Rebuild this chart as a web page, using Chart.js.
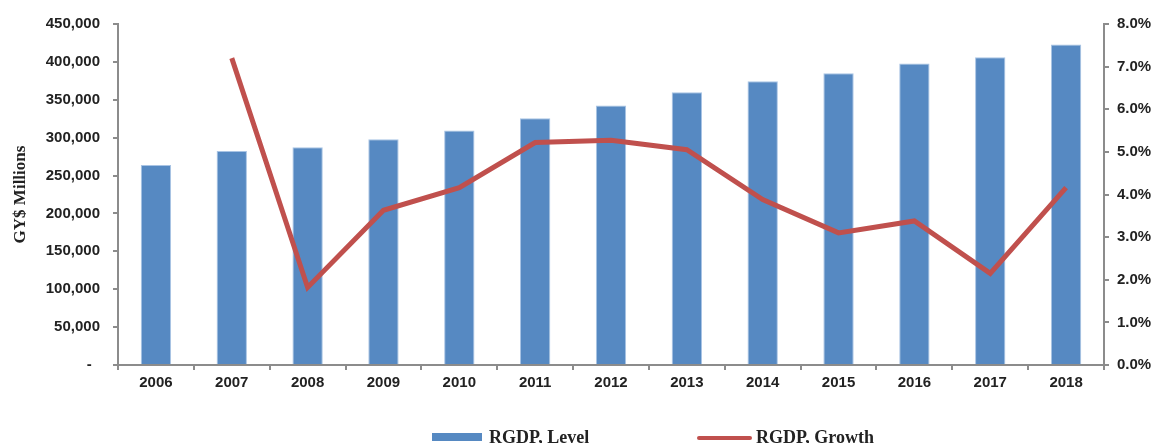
<!DOCTYPE html>
<html>
<head>
<meta charset="utf-8">
<script src="https://cdn.jsdelivr.net/npm/chart.js@4.4.0/dist/chart.umd.min.js"></script>
<style>
  html, body { margin: 0; padding: 0; background: #fff; overflow: hidden; }
  #wrap { position: relative; width: 1154px; height: 443px; }
  #legend { position: absolute; left: 0; top: 0; width: 1154px; height: 443px; pointer-events: none; }
  .lg-swatch { position: absolute; }
  .lg-text { position: absolute; font: bold 18px "Liberation Serif", "Times New Roman", serif; color: #222; line-height: 18px; white-space: nowrap; }
</style>
</head>
<body>
<div id="wrap">
  <canvas id="rgdpChart" width="1154" height="443"></canvas>
  <div id="legend"></div>
</div>
<script>
const years = ['2006', '2007', '2008', '2009', '2010', '2011', '2012', '2013', '2014', '2015', '2016', '2017', '2018'];
const rgdpLevel = [264000, 282500, 287500, 298000, 309500, 325500, 342500, 360000, 374500, 385000, 398000, 406000, 423000];
const rgdpGrowth = [null, 7.2, 1.82, 3.63, 4.16, 5.22, 5.27, 5.05, 3.88, 3.10, 3.38, 2.15, 4.16];
const levelTicks = [0, 50000, 100000, 150000, 200000, 250000, 300000, 350000, 400000, 450000];
const growthTicks = [0, 1, 2, 3, 4, 5, 6, 7, 8];

const axisGray = '#8c8c8c';
const barBlue = '#5689c2';
const lineRed = '#c0504d';

Chart.defaults.font.family = '"Liberation Sans", Arial, sans-serif';
Chart.defaults.font.weight = 'bold';
Chart.defaults.font.size = 15;
Chart.defaults.color = '#222';

const chart = new Chart(document.getElementById('rgdpChart'), {
  type: 'bar',
  data: {
    labels: years,
    datasets: [
      {
        label: 'RGDP, Level',
        data: rgdpLevel,
        backgroundColor: barBlue,
        borderColor: '#a9c4e4',
        borderWidth: 1,
        barPercentage: 0.4,
        categoryPercentage: 1,
        yAxisID: 'y',
        order: 1
      },
      {
        type: 'line',
        label: 'RGDP, Growth',
        data: rgdpGrowth,
        borderColor: lineRed,
        backgroundColor: lineRed,
        borderWidth: 5,
        pointRadius: 0,
        tension: 0,
        yAxisID: 'y1',
        order: 0
      }
    ]
  },
  options: {
    responsive: false,
    animation: false,
    layout: { padding: { top: 24, bottom: 0, left: 0, right: 0 } },
    plugins: {
      legend: { display: false },
      tooltip: { enabled: false }
    },
    scales: {
      x: {
        offset: true,
        grid: { offset: true, drawOnChartArea: false, tickLength: 5, color: axisGray, lineWidth: 2 },
        border: { color: axisGray, width: 2 },
        ticks: { padding: 4, font: { size: 15, weight: 'bold' }, maxRotation: 0 },
        afterFit: (scale) => { scale.height = 78; }
      },
      y: {
        position: 'left',
        min: 0,
        max: 450000,
        afterBuildTicks: (scale) => { scale.ticks = levelTicks.map((v) => ({ value: v })); },
        grid: { drawOnChartArea: false, tickLength: 5, color: axisGray, lineWidth: 2 },
        border: { color: axisGray, width: 2 },
        ticks: {
          padding: 13,
          callback: (v) => (v === 0 ? '-  ' : v.toLocaleString('en-US'))
        },
        title: {
          display: true,
          text: 'GY$ Millions',
          font: { family: '"Liberation Serif", "Times New Roman", serif', size: 17, weight: 'bold' },
          padding: { top: 10, bottom: 0 }
        },
        afterFit: (scale) => { scale.width = 118; }
      },
      y1: {
        position: 'right',
        min: 0,
        max: 8,
        afterBuildTicks: (scale) => { scale.ticks = growthTicks.map((v) => ({ value: v })); },
        grid: { drawOnChartArea: false, tickLength: 5, color: axisGray, lineWidth: 2 },
        border: { color: axisGray, width: 2 },
        ticks: {
          padding: 8,
          callback: (v) => v.toFixed(1) + '%'
        },
        afterFit: (scale) => { scale.width = 50; }
      }
    }
  }
});

// legend drawn as html from the chart's own dataset styles
const legendBox = document.getElementById('legend');
const legendPlaces = [
  { swatchLeft: 432, swatchTop: 433, swatchW: 50, swatchH: 8, textLeft: 489 },
  { swatchLeft: 697, swatchTop: 436, swatchW: 55, swatchH: 4, textLeft: 756 }
];
chart.data.datasets.forEach((ds, i) => {
  const place = legendPlaces[i];
  const sw = document.createElement('div');
  sw.className = 'lg-swatch';
  sw.style.left = place.swatchLeft + 'px';
  sw.style.top = place.swatchTop + 'px';
  sw.style.width = place.swatchW + 'px';
  sw.style.height = place.swatchH + 'px';
  sw.style.background = ds.type === 'line' ? ds.borderColor : ds.backgroundColor;
  sw.style.borderRadius = ds.type === 'line' ? '2px' : '0';
  legendBox.appendChild(sw);
  const tx = document.createElement('div');
  tx.className = 'lg-text';
  tx.style.left = place.textLeft + 'px';
  tx.style.top = '428px';
  tx.textContent = ds.label;
  legendBox.appendChild(tx);
});
</script>
</body>
</html>
